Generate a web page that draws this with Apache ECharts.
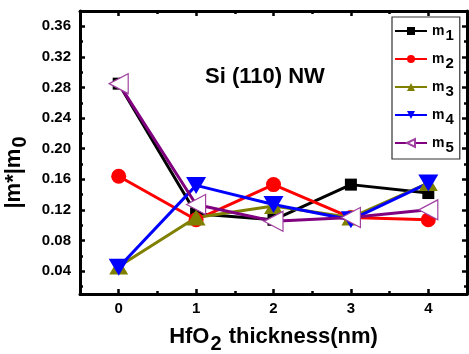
<!DOCTYPE html>
<html><head><meta charset="utf-8">
<script src="https://cdn.jsdelivr.net/npm/echarts@6/dist/echarts.min.js"></script>
<style>html,body{margin:0;padding:0;background:#fff}#c{width:469px;height:354px}</style>
</head><body><div id="c"></div>
<script>
const thickness = [0, 1, 2, 3, 4];
const m1 = [0.285, 0.115, 0.107, 0.153, 0.142];
const m2 = [0.164, 0.107, 0.153, 0.110, 0.107];
const m3 = [0.046, 0.110, 0.125, 0.110, 0.155];
const m4 = [0.045, 0.152, 0.127, 0.107, 0.155];
const m5 = [0.285, 0.127, 0.105, 0.110, 0.120];
const seriesNames = ['m1', 'm2', 'm3', 'm4', 'm5'];
const xMajorTicks = [0, 1, 2, 3, 4];
const xMinorTicks = [0.5, 1.5, 2.5, 3.5];
const yMajorTicks = [0.04, 0.08, 0.12, 0.16, 0.20, 0.24, 0.28, 0.32, 0.36];
const yMinorTicks = [0.02, 0.06, 0.10, 0.14, 0.18, 0.22, 0.26, 0.30, 0.34];

const FONT = 'Liberation Sans, Arial, sans-serif';
const X_MIN = -0.5, X_MAX = 4.5, Y_MIN = 0.01, Y_MAX = 0.38;
const pairs = arr => thickness.map((t, i) => [t, arr[i]]);

function xAx(pos, ticks, len, showLine, showLabel) {
  return {
    type: 'value', position: pos, min: X_MIN, max: X_MAX,
    axisLine: { show: showLine, onZero: false, lineStyle: { color: '#000', width: 3 } },
    axisTick: { show: true, inside: true, length: len, customValues: ticks, lineStyle: { color: '#000', width: 2.5 } },
    axisLabel: { show: showLabel, customValues: ticks, margin: 7, color: '#000', fontFamily: FONT, fontWeight: 'bold', fontSize: 15 },
    splitLine: { show: false }
  };
}
function yAx(pos, ticks, len, showLine, showLabel) {
  return {
    type: 'value', position: pos, min: Y_MIN, max: Y_MAX,
    axisLine: { show: showLine, onZero: false, lineStyle: { color: '#000', width: 3 } },
    axisTick: { show: true, inside: true, length: len, customValues: ticks, lineStyle: { color: '#000', width: 2.5 } },
    axisLabel: { show: showLabel, customValues: ticks, margin: 9, color: '#000', fontFamily: FONT, fontWeight: 'bold', fontSize: 15,
      formatter: v => v.toFixed(2) },
    splitLine: { show: false }
  };
}

const xMain = xAx('bottom', xMajorTicks, 5, true, true);
xMain.name = '{a|HfO}{s|2}{a| thickness(nm)}';
xMain.nameLocation = 'middle';
xMain.nameGap = 26;
xMain.nameTextStyle = {
  color: '#000', fontFamily: FONT, fontWeight: 'bold', fontSize: 22,
  rich: {
    a: { fontFamily: FONT, fontWeight: 'bold', fontSize: 22, color: '#000' },
    s: { fontFamily: FONT, fontWeight: 'bold', fontSize: 20, color: '#000', padding: [14, 1, 0, 1] }
  }
};
const yMain = yAx('left', yMajorTicks, 5, true, true);
yMain.name = '{a||m*|m}{s|0}';
yMain.nameLocation = 'middle';
yMain.nameGap = 34;
yMain.nameTextStyle = {
  color: '#000', fontFamily: FONT, fontWeight: 'bold', fontSize: 22, padding: [0, 40, 0, 0],
  rich: {
    a: { fontFamily: FONT, fontWeight: 'bold', fontSize: 22, color: '#000' },
    s: { fontFamily: FONT, fontWeight: 'bold', fontSize: 20, color: '#000', padding: [14, 0, 0, 1] }
  }
};

const colors = ['#000000', '#ff0000', '#808000', '#0000ff', '#800080'];
const symbols = ['rect', 'circle', 'triangle', 'triangle', 'triangle'];
const sizes = [12, 15, [19, 16], [20, 17], [20, 19]];
const rotates = [0, 0, 0, 180, 90];
const dataSets = [m1, m2, m3, m4, m5];

const series = dataSets.map((d, i) => ({
  name: seriesNames[i], type: 'line', xAxisIndex: 0, yAxisIndex: 0,
  data: pairs(d), symbol: symbols[i], symbolSize: sizes[i], symbolRotate: rotates[i],
  showAllSymbol: true, animation: false,
  lineStyle: { color: colors[i], width: 3 },
  itemStyle: i === 4 ? { color: '#ffffff', borderColor: '#a040a0', borderWidth: 1.2 } : { color: colors[i], borderWidth: 0 },
  emphasis: { disabled: true }
}));

const chart = echarts.init(document.getElementById('c'), null, { renderer: 'canvas' });
chart.setOption({
  animation: false,
  backgroundColor: '#fff',
  grid: { left: 80, right: 2, top: 11, bottom: 60, containLabel: false, outerBoundsMode: 'none' },
  title: {
    text: 'Si (110) NW', left: 200, top: 61,
    textStyle: { fontFamily: FONT, fontWeight: 'bold', fontSize: 22, color: '#000' }
  },
  legend: {
    orient: 'vertical', left: 392, top: 17,
    padding: [7, 6, 4, 2],
    backgroundColor: '#fff', borderColor: '#333', borderWidth: 1.2, borderRadius: 0,
    itemWidth: 32, itemHeight: 10, itemGap: 9,
    formatter: n => '{a|m}{s|' + n.slice(1) + '}',
    textStyle: {
      color: '#000', fontFamily: FONT, fontWeight: 'bold', fontSize: 14,
      rich: {
        a: { fontFamily: FONT, fontWeight: 'bold', fontSize: 14, color: '#000' },
        s: { fontFamily: FONT, fontWeight: 'bold', fontSize: 15, color: '#000', padding: [9, 0, 0, 1] }
      }
    },
    data: seriesNames
  },
  xAxis: [
    xMain,
    xAx('bottom', xMinorTicks, 3, false, false),
    xAx('top', xMajorTicks, 5, true, false),
    xAx('top', xMinorTicks, 3, false, false)
  ],
  yAxis: [
    yMain,
    yAx('left', yMinorTicks, 3, false, false),
    yAx('right', yMajorTicks, 5, true, false),
    yAx('right', yMinorTicks, 3, false, false)
  ],
  series: series
});
</script></body></html>
